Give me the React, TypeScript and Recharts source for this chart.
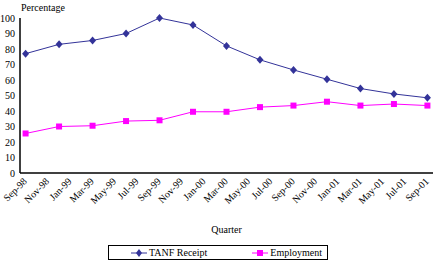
import React from "react";
import { LineChart, Line, XAxis, YAxis } from "recharts";

// month index from Sep-98 (0) to Sep-01 (36); points are quarterly
const monthIndex = [0, 3, 6, 9, 12, 15, 18, 21, 24, 27, 30, 33, 36];
const tanfReceipt = [77, 83, 85.5, 90, 100, 95.5, 82, 73, 66.5, 60.5, 54.5, 51, 48.5];
const employment = [25.5, 30, 30.5, 33.5, 34, 39.5, 39.5, 42.5, 43.5, 46, 43.5, 44.5, 43.5];

const tickLabels = [
    "Sep-98", "Nov-98", "Jan-99", "Mar-99", "May-99", "Jul-99", "Sep-99", "Nov-99",
    "Jan-00", "Mar-00", "May-00", "Jul-00", "Sep-00", "Nov-00", "Jan-01", "Mar-01",
    "May-01", "Jul-01", "Sep-01",
];
const yTicks = [0, 10, 20, 30, 40, 50, 60, 70, 80, 90, 100];

const NAVY = "#333399";
const MAGENTA = "#FF00FF";
const FONT = "Liberation Serif";

const data = monthIndex.map((m, i) => ({
    m,
    tanf: tanfReceipt[i],
    emp: employment[i],
}));

const Diamond = (props: any) => {
    const { cx, cy } = props;
    if (cx == null || cy == null) return null;
    return <path d={`M${cx},${cy - 4}L${cx + 3.5},${cy}L${cx},${cy + 4}L${cx - 3.5},${cy}Z`} fill={NAVY} />;
};

const Square = (props: any) => {
    const { cx, cy } = props;
    if (cx == null || cy == null) return null;
    return <rect x={cx - 3} y={cy - 3} width={6} height={6} fill={MAGENTA} />;
};

const textStyle: React.CSSProperties = {
    fontFamily: FONT,
    fontSize: 10,
    color: "#000",
    marginLeft: 2,
    lineHeight: "12px",
    whiteSpace: "nowrap",
};

// legend drawn as plain html under the chart
const LegendBox = () => (
    <div
        style={{
            position: "absolute",
            left: 108,
            top: 245,
            border: "1px solid #000",
            width: 218,
            height: 13,
            display: "flex",
            alignItems: "center",
            boxSizing: "content-box",
            background: "#fff",
        }}
    >
        <svg width={16} height={10} style={{ marginLeft: 22 }}>
            <line x1={0} y1={5} x2={16} y2={5} stroke={NAVY} strokeWidth={1} />
            <path d="M8,1L11,5L8,9L5,5Z" fill={NAVY} />
        </svg>
        <span style={textStyle}>TANF Receipt</span>
        <svg width={16} height={10} style={{ marginLeft: 45 }}>
            <line x1={0} y1={5} x2={16} y2={5} stroke={MAGENTA} strokeWidth={1} />
            <rect x={5} y={2} width={6} height={6} fill={MAGENTA} />
        </svg>
        <span style={textStyle}>Employment</span>
    </div>
);

export default function App() {
    return (
        <div style={{ position: "absolute", left: 0, top: 0, width: 438, height: 266, background: "#fff" }}>
            <LineChart
                width={438}
                height={266}
                data={data}
                margin={{ top: 18, right: 5, left: 0, bottom: 0 }}
            >
                <XAxis
                    dataKey="m"
                    type="number"
                    domain={[-0.5, 36.5]}
                    ticks={tickLabels.map((_, i) => i * 2)}
                    tickFormatter={(v: number) => tickLabels[v / 2]}
                    interval={0}
                    height={93}
                    tickLine={false}
                    tickSize={2}
                    angle={-45}
                    textAnchor="end"
                    axisLine={{ stroke: "#000", strokeWidth: 1.5 }}
                    tick={{ fill: "#000", fontSize: 10, fontFamily: FONT, dx: -3 }}
                    label={{
                        value: "Quarter",
                        position: "insideBottom",
                        offset: 33,
                        fill: "#000",
                        fontSize: 10,
                        fontFamily: FONT,
                    }}
                />
                <YAxis
                    domain={[0, 100]}
                    ticks={yTicks}
                    interval={0}
                    width={20}
                    tickLine={false}
                    tickSize={3}
                    axisLine={{ stroke: "#000", strokeWidth: 1.5 }}
                    tick={{ fill: "#000", fontSize: 10, fontFamily: FONT }}
                />
                <Line
                    type="linear"
                    dataKey="tanf"
                    name="TANF Receipt"
                    stroke={NAVY}
                    strokeWidth={1}
                    dot={<Diamond />}
                    isAnimationActive={false}
                />
                <Line
                    type="linear"
                    dataKey="emp"
                    name="Employment"
                    stroke={MAGENTA}
                    strokeWidth={1}
                    dot={<Square />}
                    isAnimationActive={false}
                />
            </LineChart>
            <div
                style={{
                    position: "absolute",
                    left: 21,
                    top: 2,
                    fontFamily: FONT,
                    fontSize: 10,
                    lineHeight: "12px",
                    color: "#000",
                    whiteSpace: "nowrap",
                }}
            >
                Percentage
            </div>
            <LegendBox />
        </div>
    );
}
